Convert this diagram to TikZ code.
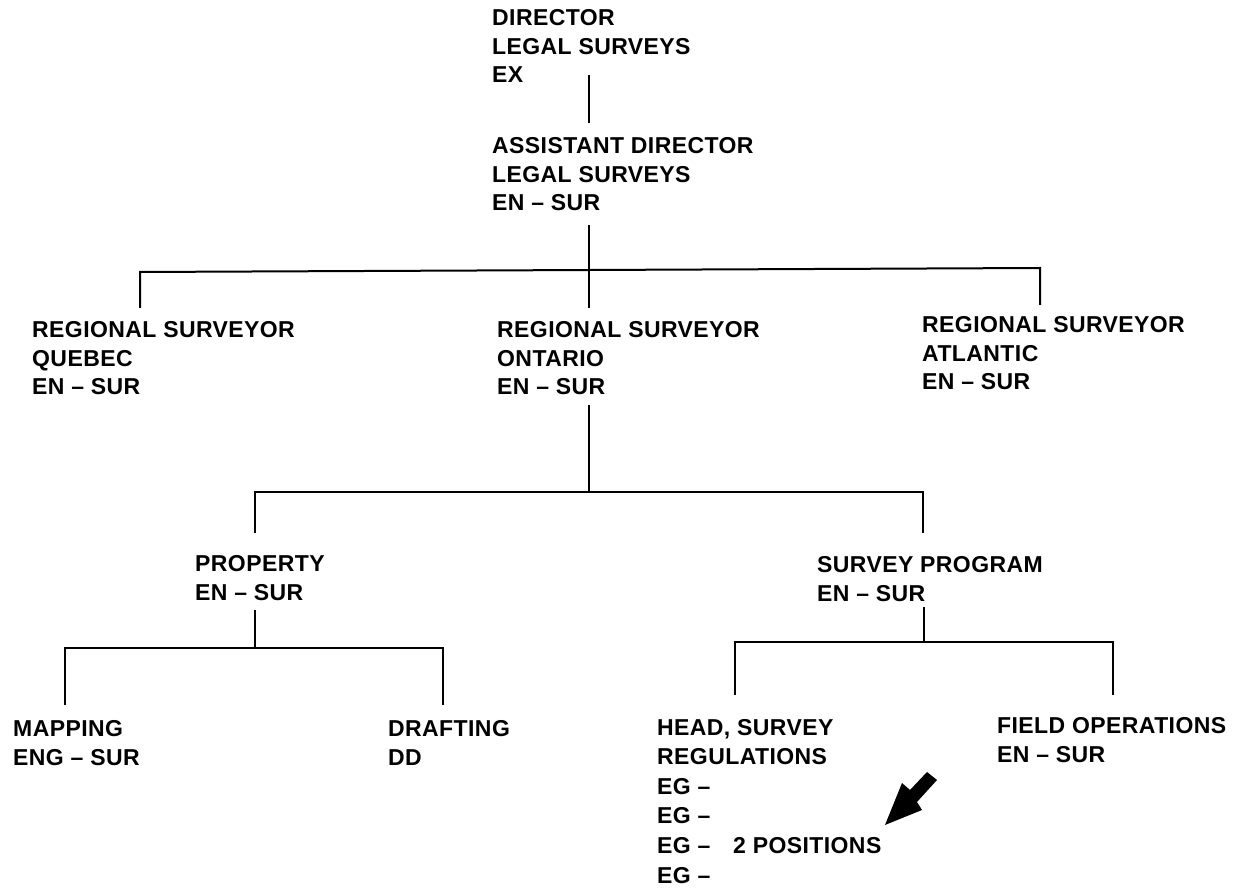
\documentclass[tikz,border=0pt]{standalone}
\usepackage{fontspec}
\setmainfont{Liberation Sans}[LetterSpace=1.8]
\newcommand{\orgfont}{\fontsize{23}{28.6}\selectfont\bfseries}
\begin{document}
\begin{tikzpicture}[x=1pt,y=-1pt,
  post/.style={anchor=base west,inner sep=0pt,align=left,font=\orgfont},
  link/.style={line width=2pt,line cap=butt,line join=miter}]
\useasboundingbox (0,0) rectangle (1235,890);

% positions (placed by the baseline of their last line)
\node[post] (dir)      at (492,83)  {DIRECTOR\\LEGAL SURVEYS\\EX};
\node[post] (asst)     at (492,211) {ASSISTANT DIRECTOR\\LEGAL SURVEYS\\EN – SUR};
\node[post] (quebec)   at (32,395)  {REGIONAL SURVEYOR\\QUEBEC\\EN – SUR};
\node[post] (ontario)  at (497,395) {REGIONAL SURVEYOR\\ONTARIO\\EN – SUR};
\node[post] (atlantic) at (922,390) {REGIONAL SURVEYOR\\ATLANTIC\\EN – SUR};
\node[post] (property) at (195,600) {PROPERTY\\EN – SUR};
\node[post] (program)  at (817,601) {SURVEY PROGRAM\\EN – SUR};
\node[post] (mapping)  at (13,765)  {MAPPING\\ENG – SUR};
\node[post] (drafting) at (388,765) {DRAFTING\\DD};
\node[post,font=\fontsize{23}{29.6}\selectfont\bfseries] (head) at (657,883)
  {HEAD, SURVEY\\REGULATIONS\\EG –\\EG –\\EG –\\EG –};
\node[post] (field)    at (997,762) {FIELD OPERATIONS\\EN – SUR};
\node[post] (twopos)   at (733,853) {2 POSITIONS};

% connector end points
\coordinate (dirS)   at (589,75);
\coordinate (asstN)  at (589,123);
\coordinate (asstS)  at (589,225);
\coordinate (ontN)   at (589,308);
\coordinate (qBar)   at (140,272);
\coordinate (qN)     at (140,308);
\coordinate (aBar)   at (1040,268);
\coordinate (aN)     at (1040,305);
\coordinate (ontS)   at (589,405);
\coordinate (ontBar) at (589,492);
\coordinate (pBar)   at (255,492);
\coordinate (pN)     at (255,533);
\coordinate (sBar)   at (923,492);
\coordinate (sN)     at (923,533);
\coordinate (pS)     at (255,610);
\coordinate (pJoin)  at (255,648);
\coordinate (mBar)   at (65,648);
\coordinate (mN)     at (65,705);
\coordinate (dBar)   at (443,648);
\coordinate (dN)     at (443,705);
\coordinate (sS)     at (924,607);
\coordinate (sJoin)  at (924,642);
\coordinate (hBar)   at (735,642);
\coordinate (hN)     at (735,695);
\coordinate (fBar)   at (1113,642);
\coordinate (fN)     at (1113,695);

% connectors
\draw[link] (dirS) -- (asstN);
\draw[link] (asstS) -- (ontN);
\draw[link] (qN) -- (qBar) -- (aBar) -- (aN);
\draw[link] (ontS) -- (ontBar);
\draw[link] (pN) -- (pBar) -- (sBar) -- (sN);
\draw[link] (pS) -- (pJoin);
\draw[link] (mN) -- (mBar) -- (dBar) -- (dN);
\draw[link] (sS) -- (sJoin);
\draw[link] (hN) -- (hBar) -- (fBar) -- (fN);

% pointer arrow
\fill (885,825) -- (902,783) -- (910,790) -- (927,772) -- (937,780)
  -- (917,802) -- (922,810) -- cycle;
\end{tikzpicture}
\end{document}
